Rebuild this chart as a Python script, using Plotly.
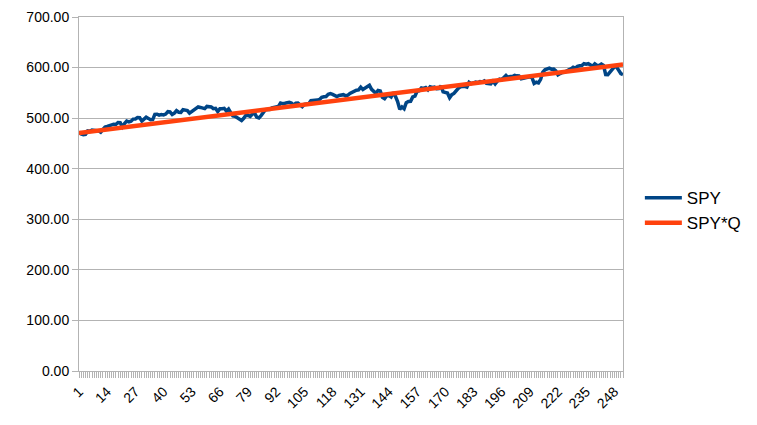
import plotly.graph_objects as go

# Day index 1..252 (trading days)
days = list(range(1, 253))

spy = [
    # Jan
    472.65, 468.79, 467.28, 467.92, 474.60, 473.88, 476.56, 476.35, 476.68, 474.93,
    472.29, 476.49, 482.43, 483.45, 484.86, 485.39, 488.03, 487.41, 491.27, 490.89,
    482.88,
    # Feb
    489.20, 494.35, 492.55, 493.98, 498.10, 498.32, 501.20, 500.98, 494.08, 498.57,
    502.01, 499.51, 496.76, 497.21, 507.50, 507.85, 505.99, 506.93, 506.26, 508.08,
    # Mar
    512.85, 512.30, 507.18, 509.75, 514.81, 511.72, 511.28, 516.78, 515.97, 514.95,
    509.83, 512.86, 515.71, 520.48, 522.20, 521.21, 519.77, 518.81, 523.17, 523.07,
    # Apr
    522.16, 518.84, 519.41, 513.07, 518.43, 518.72, 519.32, 514.12, 518.00, 510.85,
    504.45, 503.53, 500.55, 499.52, 495.16, 499.72, 505.65, 505.41, 503.49, 508.26,
    510.06, 501.98,
    # May
    500.35, 505.03, 511.29, 516.57, 517.14, 517.19, 520.17, 520.84, 520.91, 523.30,
    529.78, 528.69, 529.45, 530.06, 531.36, 529.83, 525.96, 529.44, 529.81, 526.10,
    522.61, 527.37,
    # Jun
    527.80, 528.39, 534.67, 534.66, 534.01, 535.66, 536.95, 541.36, 542.45, 542.78,
    547.10, 548.49, 547.00, 544.51, 542.74, 544.83, 545.51, 546.37, 544.22,
    # Jul
    545.34, 549.01, 551.46, 554.64, 555.28, 555.82, 561.32, 556.48, 559.99, 561.53,
    564.86, 556.94, 552.66, 548.99, 554.65, 553.78, 541.23, 538.41, 544.44, 544.76,
    542.00, 550.81,
    # Aug
    543.01, 532.90, 517.38, 522.15, 518.66, 530.65, 532.99, 533.27, 542.04, 543.75,
    553.07, 554.31, 559.61, 558.70, 560.62, 556.22, 562.13, 560.79, 561.56, 558.30,
    558.35, 563.68,
    # Sep
    552.08, 550.95, 549.61, 540.36, 546.41, 548.79, 554.42, 559.09, 562.01, 562.84,
    563.07, 561.40, 570.98, 568.25, 569.67, 571.30, 570.04, 572.30, 571.47, 573.76,
    # Oct
    568.62, 568.86, 567.82, 572.98, 567.80, 573.17, 577.14, 575.84, 579.58, 584.32,
    579.78, 582.30, 582.35, 584.59, 583.63, 583.32, 577.99, 579.24, 579.04, 580.83,
    581.77, 580.01, 568.64,
    # Nov
    571.04, 569.81, 576.70, 591.04, 595.61, 598.19, 598.76, 596.90, 597.19, 593.35,
    585.75, 588.15, 590.30, 590.50, 593.67, 595.51, 597.53, 600.65, 598.83, 602.55,
    # Dec
    603.63, 603.91, 607.66, 606.66, 607.81, 604.68, 602.80, 607.46, 604.33, 604.21,
    606.79, 604.29, 586.28, 586.10, 591.15, 594.69, 601.30, 601.34, 595.01, 588.22,
    586.08,
]

# Straight trend series SPY*Q: endpoints
spy_q_days = [1, 252]
spy_q = [470.5, 606.0]

x_tick_vals = list(range(1, 253, 13))
x_tick_text = [str(v) for v in x_tick_vals]
y_tick_vals = [0, 100, 200, 300, 400, 500, 600, 700]

GRID = "#b3b3b3"
FONT = "Liberation Sans, Arial, sans-serif"

fig = go.Figure()
fig.add_trace(go.Scatter(x=days, y=spy, mode="lines", name="SPY",
                         line=dict(color="#004586", width=3.5)))
fig.add_trace(go.Scatter(x=spy_q_days, y=spy_q, mode="lines", name="SPY*Q",
                         line=dict(color="#ff420e", width=4.5)))

fig.update_layout(
    width=757, height=425,
    margin=dict(l=71, r=142, t=9, b=62),
    paper_bgcolor="white", plot_bgcolor="white",
    font=dict(family=FONT, size=14, color="black"),
    showlegend=True,
    legend=dict(x=1.031, xanchor="left", y=0.453, yanchor="middle",
                font=dict(size=17, family=FONT, color="black"),
                bgcolor="rgba(0,0,0,0)", itemwidth=37),
)
fig.update_xaxes(
    range=[1, 252], tickmode="array", tickvals=x_tick_vals, ticktext=x_tick_text,
    tickangle=-45, ticks="outside", ticklen=6, tickcolor=GRID,
    showgrid=False, zeroline=False, automargin=False,
    showline=True, linecolor=GRID, linewidth=1, mirror=True,
    minor=dict(tick0=1, dtick=1, ticks="outside", ticklen=6, tickcolor=GRID, showgrid=False),
    tickfont=dict(size=14, family=FONT, color="black"),
)
fig.update_yaxes(
    range=[0, 700], tickmode="array", tickvals=y_tick_vals,
    tickformat=".2f", ticks="outside", ticklen=6, tickcolor=GRID,
    showgrid=True, gridcolor=GRID, gridwidth=1, zeroline=False, automargin=False,
    showline=True, linecolor=GRID, linewidth=1, mirror=True,
    tickfont=dict(size=14, family=FONT, color="black"),
)

fig.write_html("out.html")
